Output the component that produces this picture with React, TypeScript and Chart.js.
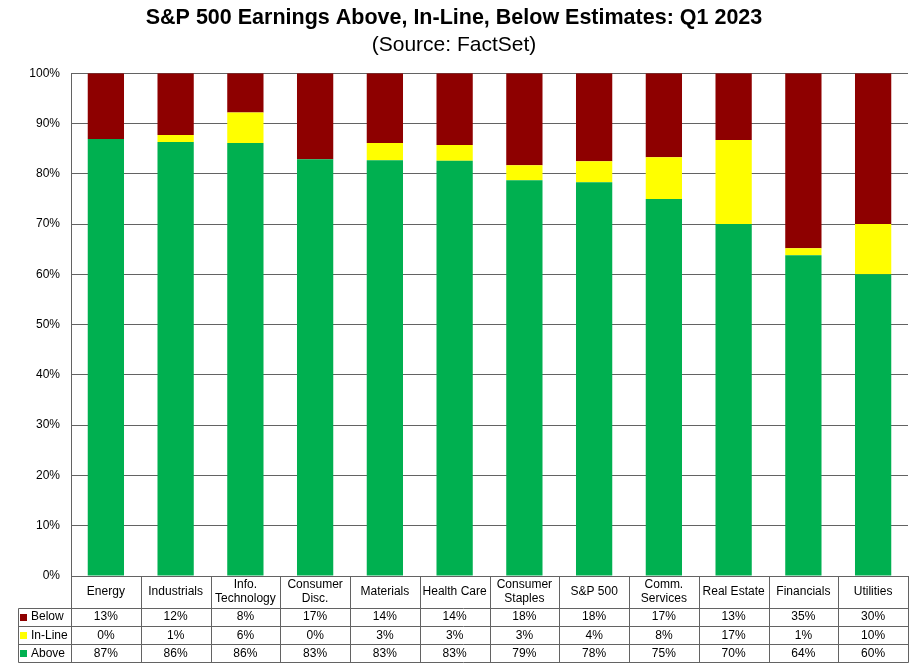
import React, { useEffect, useRef } from "react";
import { Chart, registerables } from "chart.js";

Chart.register(...registerables);

const categories = [
  "Energy",
  "Industrials",
  "Info.\nTechnology",
  "Consumer\nDisc.",
  "Materials",
  "Health Care",
  "Consumer\nStaples",
  "S&P 500",
  "Comm.\nServices",
  "Real Estate",
  "Financials",
  "Utilities",
];

// Bar heights (percent of companies)
const aboveValues = [86.9, 86.3, 86.1, 82.9, 82.7, 82.6, 78.7, 78.3, 75.0, 70.0, 63.8, 60.0];
const inLineValues = [0.0, 1.4, 6.1, 0.0, 3.4, 3.1, 3.0, 4.2, 8.3, 16.7, 1.4, 10.0];
const belowValues = [13.1, 12.3, 7.8, 17.1, 13.9, 14.3, 18.3, 17.5, 16.7, 13.3, 34.8, 30.0];

// Data-table labels (as printed)
const belowLabels = ["13%", "12%", "8%", "17%", "14%", "14%", "18%", "18%", "17%", "13%", "35%", "30%"];
const inLineLabels = ["0%", "1%", "6%", "0%", "3%", "3%", "3%", "4%", "8%", "17%", "1%", "10%"];
const aboveLabels = ["87%", "86%", "86%", "83%", "83%", "83%", "79%", "78%", "75%", "70%", "64%", "60%"];

const yTicks = [0, 10, 20, 30, 40, 50, 60, 70, 80, 90, 100];

const COLOR_ABOVE = "#00B050";
const COLOR_INLINE = "#FFFF00";
const COLOR_BELOW = "#8E0000";
const GRID = "#636363";
const FONT = 'Arial, "Liberation Sans", sans-serif';

const tablePlugin = {
  id: "dataTable",
  afterDraw(chart: any) {
    const ctx = chart.ctx as CanvasRenderingContext2D;
    const area = chart.chartArea;
    const xScale = chart.scales.x;
    const n = categories.length;
    const cw = (area.right - area.left) / n;
    const top = area.bottom;
    const headerH = 31.5;
    const rowH = 18.2;
    const tableLeft = 18;
    const rows = [
      { name: "Below", color: COLOR_BELOW, labels: belowLabels },
      { name: "In-Line", color: COLOR_INLINE, labels: inLineLabels },
      { name: "Above", color: COLOR_ABOVE, labels: aboveLabels },
    ];
    const bottom = top + headerH + rowH * rows.length;

    ctx.save();
    ctx.strokeStyle = GRID;
    ctx.lineWidth = 1;
    const px = (v: number) => Math.round(v) + 0.5;

    for (let i = 0; i <= n; i++) {
      const x = px(area.left + i * cw);
      ctx.beginPath();
      ctx.moveTo(x, top);
      ctx.lineTo(x, px(bottom));
      ctx.stroke();
    }
    ctx.beginPath();
    ctx.moveTo(px(tableLeft), px(top + headerH));
    ctx.lineTo(px(tableLeft), px(bottom));
    ctx.stroke();
    for (let r = 0; r <= rows.length; r++) {
      const y = px(top + headerH + r * rowH);
      ctx.beginPath();
      ctx.moveTo(px(tableLeft), y);
      ctx.lineTo(px(area.right), y);
      ctx.stroke();
    }

    ctx.fillStyle = "#000";
    ctx.font = "12px " + FONT;
    ctx.textAlign = "center";
    ctx.textBaseline = "middle";
    for (let i = 0; i < n; i++) {
      const cx = xScale.getPixelForValue(i);
      const lines = categories[i].split("\n");
      const lh = 14;
      const cy = top + headerH / 2;
      lines.forEach((ln, k) => {
        ctx.fillText(ln, cx, cy + (k - (lines.length - 1) / 2) * lh);
      });
    }
    rows.forEach((row, r) => {
      const cy = top + headerH + r * rowH + rowH / 2 + 0.5;
      ctx.fillStyle = row.color;
      ctx.fillRect(20, Math.round(cy - 3.5), 7, 7);
      ctx.fillStyle = "#000";
      ctx.textAlign = "left";
      ctx.fillText(row.name, 31, cy);
      ctx.textAlign = "center";
      for (let i = 0; i < n; i++) {
        ctx.fillText(row.labels[i], xScale.getPixelForValue(i), cy);
      }
    });
    ctx.restore();
  },
};

export default function App() {
  const ref = useRef<HTMLCanvasElement | null>(null);

  useEffect(() => {
    document.body.style.margin = "0";
    const canvas = ref.current;
    if (!canvas) return;
    const chart = new Chart(canvas, {
      type: "bar",
      data: {
        labels: categories,
        datasets: [
          { label: "Above", data: aboveValues, backgroundColor: COLOR_ABOVE, borderWidth: 0 },
          { label: "In-Line", data: inLineValues, backgroundColor: COLOR_INLINE, borderWidth: 0 },
          { label: "Below", data: belowValues, backgroundColor: COLOR_BELOW, borderWidth: 0 },
        ],
      },
      options: {
        responsive: false,
        animation: false,
        devicePixelRatio: 1,
        layout: { padding: { top: 0, left: 0, right: 12, bottom: 93 } },
        datasets: { bar: { barPercentage: 0.52, categoryPercentage: 1 } },
        plugins: {
          legend: { display: false },
          tooltip: { enabled: false },
          title: {
            display: true,
            text: "S&P 500 Earnings Above, In-Line, Below Estimates: Q1 2023",
            color: "#000",
            font: { family: FONT, size: 21.5, weight: "bold", lineHeight: 1.2 },
            padding: { top: 5.5, bottom: 0 },
          },
          subtitle: {
            display: true,
            text: "(Source: FactSet)",
            color: "#000",
            font: { family: FONT, size: 21, weight: "normal", lineHeight: 1.2 },
            padding: { top: 1.5, bottom: 15.2 },
          },
        },
        scales: {
          x: {
            stacked: true,
            display: false,
            grid: { display: false },
          },
          y: {
            stacked: true,
            min: 0,
            max: 100,
            afterFit: (s: any) => {
              s.width = 71;
            },
            afterBuildTicks: (s: any) => {
              s.ticks = yTicks.map((v) => ({ value: v }));
            },
            ticks: {
              color: "#000",
              font: { family: FONT, size: 12 },
              padding: 11,
              callback: (v: any) => v + "%",
            },
            grid: { color: GRID, lineWidth: 1, drawTicks: false },
            border: { color: GRID, width: 1 },
          },
        },
      },
      plugins: [tablePlugin],
    } as any);
    return () => chart.destroy();
  }, []);

  return (
    <div style={{ position: "fixed", left: 0, top: 0, width: 920, height: 669, background: "#fff" }}>
      <canvas ref={ref} width={920} height={669} />
    </div>
  );
}
